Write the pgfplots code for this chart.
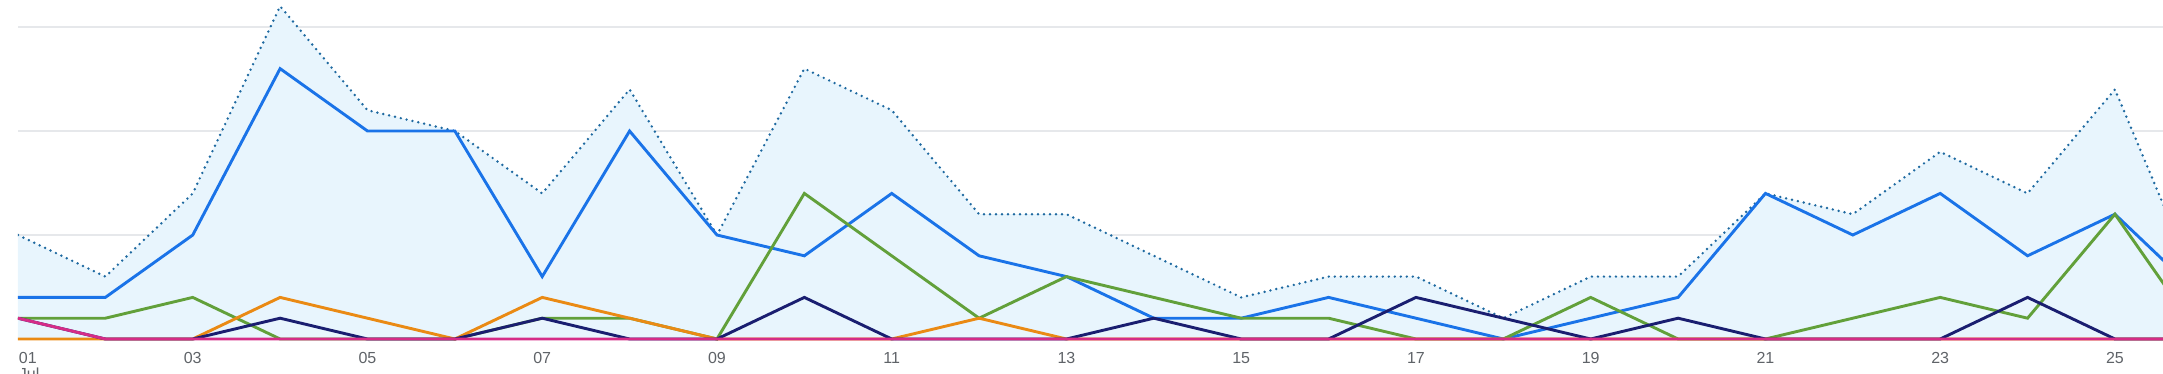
\documentclass[border=0pt]{standalone}
\usepackage{pgfplots}
\pgfplotsset{compat=1.18}
\usepackage{pgfplotstable}
\usepackage{fontspec}
\setmainfont{Liberation Sans}
\definecolor{fillblue}{RGB}{232,245,253}
\definecolor{dotblue}{RGB}{30,105,160}
\definecolor{gblue}{RGB}{26,115,232}
\definecolor{ggreen}{RGB}{98,160,58}
\definecolor{gorange}{RGB}{234,138,20}
\definecolor{gnavy}{RGB}{26,30,112}
\definecolor{gmagenta}{RGB}{213,44,135}
\definecolor{gridgray}{RGB}{230,232,235}
\definecolor{labelgray}{RGB}{95,99,104}
\definecolor{tickgray}{RGB}{218,220,224}

\pgfplotstableread{
day total blue green orange navy magenta
1  5  2  1 0 1 1
2  3  2  1 0 0 0
3  7  5  2 0 0 0
4  16 13 0 2 1 0
5  11 10 0 1 0 0
6  10 10 0 0 0 0
7  7  3  1 2 1 0
8  12 10 1 1 0 0
9  5  5  0 0 0 0
10 13 4  7 0 2 0
11 11 7  4 0 0 0
12 6  4  1 1 0 0
13 6  3  3 0 0 0
14 4  1  2 0 1 0
15 2  1  1 0 0 0
16 3  2  1 0 0 0
17 3  1  0 0 2 0
18 1  0  0 0 1 0
19 3  1  2 0 0 0
20 3  2  0 0 1 0
21 7  7  0 0 0 0
22 6  5  1 0 0 0
23 9  7  2 0 0 0
24 7  4  1 0 2 0
25 12 6  6 0 0 0
26 2  2  0 0 0 0
}\data

\begin{document}
\begin{tikzpicture}
\begin{axis}[
  at={(0pt,-1.56pt)}, anchor=south west,
  scale only axis, width=1072.5pt, height=171.06pt,
  xmin=1, xmax=25.55, ymin=-0.15, ymax=16.3,
  axis line style={draw=none},
  ytick={5,10,15}, yticklabels={}, ytick style={draw=none},
  ymajorgrids, grid style={color=gridgray, line width=0.7pt},
  xtick={1,3,...,25},
  xticklabels={,03,05,07,09,11,13,15,17,19,21,23,25},
  xtick style={draw=none},
  major tick length=2pt, tick align=outside,
  xticklabel style={font=\fontsize{8}{9.6}\selectfont, text=labelgray, inner sep=0pt, anchor=north},
  xticklabel shift=2.9pt,
]
\addplot[fill=fillblue, draw=none] table[x=day,y=total]{\data} \closedcycle;
\addplot[dotblue, line width=1.35pt, dash pattern=on 0pt off 3pt, line cap=round] table[x=day,y=total]{\data};
\addplot[gblue, line width=1.45pt] table[x=day,y=blue]{\data};
\addplot[ggreen, line width=1.45pt] table[x=day,y=green]{\data};
\addplot[gorange, line width=1.45pt] table[x=day,y=orange]{\data};
\addplot[gnavy, line width=1.45pt] table[x=day,y=navy]{\data};
\addplot[gmagenta, line width=1.45pt] table[x=day,y=magenta]{\data};
\end{axis}
\node[anchor=north west, inner sep=0pt, text=labelgray, font=\fontsize{8}{9.6}\selectfont] at (0.3pt,-6.5pt) {01};
\node[anchor=north west, inner sep=0pt, text=labelgray, font=\fontsize{8}{9.6}\selectfont] at (0.3pt,-14.5pt) {Jul};
\pgfresetboundingbox
\useasboundingbox (-9pt,-17.5pt) rectangle (1072.5pt,169.5pt);
\end{tikzpicture}
\end{document}
